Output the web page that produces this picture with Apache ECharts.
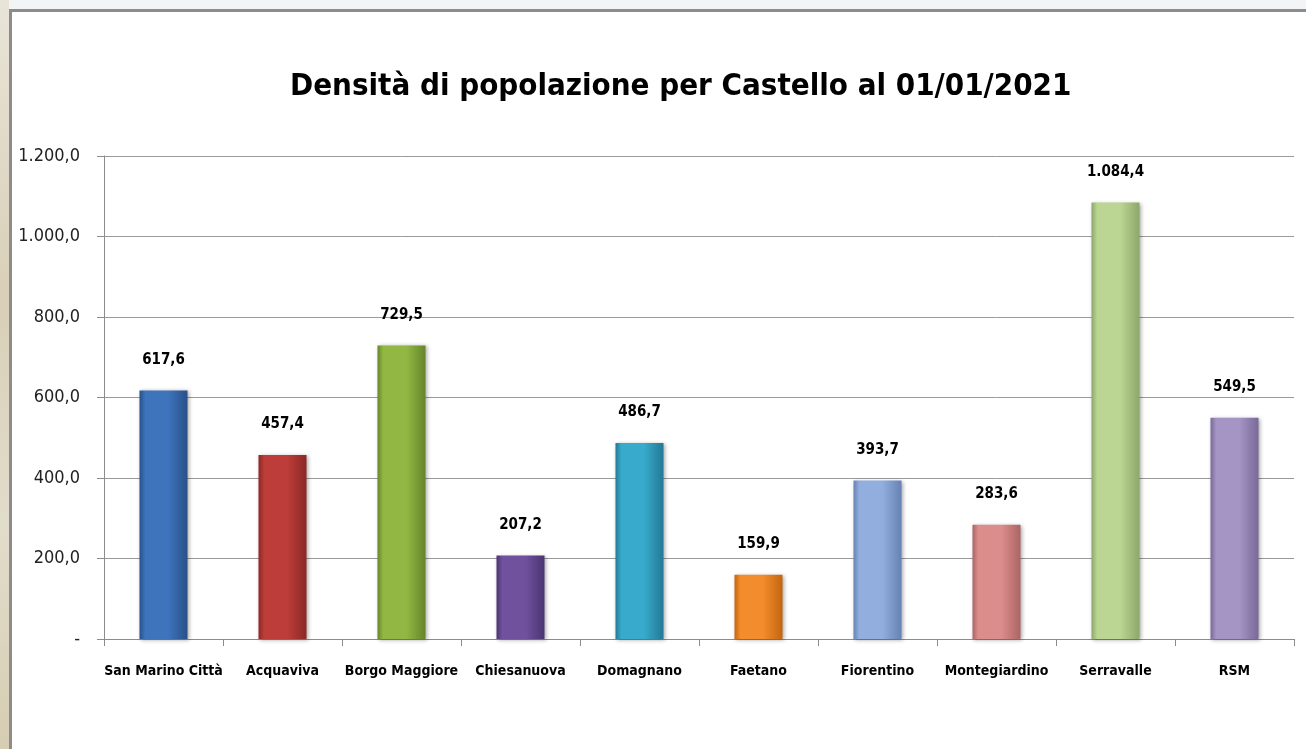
<!DOCTYPE html>
<html>
<head>
<meta charset="utf-8">
<script src="https://cdn.jsdelivr.net/npm/echarts@6/dist/echarts.min.js"></script>
<style>
  html, body { margin: 0; padding: 0; }
  body { width: 1306px; height: 749px; background: #f3f4f6; position: relative; overflow: hidden; }
  .strip { position: absolute; left: 0; top: 0; width: 9px; height: 749px;
    background: linear-gradient(180deg, #e9e4d8 0%, #d9cfb8 40%, #e2dccb 70%, #d6cdb2 100%); }
  .frame { position: absolute; left: 9px; top: 9px; width: 1297px; height: 740px;
    background: #fff; border-left: 3px solid #8c8c8c; border-top: 3px solid #8c8c8c; box-sizing: border-box; }
  #main { position: absolute; left: 0; top: 0; width: 1306px; height: 749px; }
</style>
</head>
<body>
<div class="strip"></div>
<div class="frame"></div>
<div id="main"></div>
<script>
var titleText = 'Densità di popolazione per Castello al 01/01/2021';
var castelli = ['San Marino Città', 'Acquaviva', 'Borgo Maggiore', 'Chiesanuova', 'Domagnano',
  'Faetano', 'Fiorentino', 'Montegiardino', 'Serravalle', 'RSM'];
var densita = [617.6, 457.4, 729.5, 207.2, 486.7, 159.9, 393.7, 283.6, 1084.4, 549.5];
// colore centrale / colore bordo di ogni barra
var coloriCentro = ['#3d74bb', '#bd3d3a', '#92b843', '#70519e', '#38aacb',
  '#f28c2c', '#91aedf', '#db8d8c', '#bbd592', '#a595c5'];
var coloriBordo = ['#285089', '#8a2826', '#66852a', '#4b3471', '#227995',
  '#c4650f', '#6682b3', '#ad6464', '#8ca86a', '#786999'];

var font = "'Liberation Sans Narrow', 'DejaVu Sans Condensed', sans-serif";

// formato italiano: 1.084,4
function fmt(v) {
  var s = v.toFixed(1).split('.');
  var intPart = s[0].replace(/\B(?=(\d{3})+(?!\d))/g, '.');
  return intPart + ',' + s[1];
}

var myChart = echarts.init(document.getElementById('main'));

var barData = densita.map(function (v, i) {
  return {
    value: v,
    itemStyle: {
      color: new echarts.graphic.LinearGradient(0, 0, 1, 0, [
        { offset: 0, color: coloriBordo[i] },
        { offset: 0.12, color: coloriCentro[i] },
        { offset: 0.6, color: coloriCentro[i] },
        { offset: 1, color: coloriBordo[i] }
      ])
    }
  };
});

myChart.setOption({
  backgroundColor: 'transparent',
  animation: false,
  title: {
    text: titleText,
    left: 285,
    top: 66,
    textStyle: {
      fontFamily: font,
      fontWeight: 'bold',
      fontSize: 31,
      color: '#000'
    }
  },
  grid: {
    left: 104,
    right: 12,
    top: 156,
    bottom: 110
  },
  xAxis: {
    type: 'category',
    data: castelli,
    axisLine: { lineStyle: { color: '#8c8c8c', width: 1 } },
    axisTick: { show: true, length: 7, lineStyle: { color: '#8c8c8c' } },
    axisLabel: {
      interval: 0,
      margin: 25,
      fontFamily: font,
      fontWeight: 'bold',
      fontSize: 14,
      color: '#000'
    }
  },
  yAxis: {
    type: 'value',
    min: 0,
    max: 1200,
    interval: 200,
    axisLine: { show: true, lineStyle: { color: '#8c8c8c' } },
    axisTick: { show: true, length: 7, lineStyle: { color: '#8c8c8c' } },
    splitLine: { lineStyle: { color: '#9a9a9a' } },
    axisLabel: {
      margin: 24,
      fontFamily: font,
      fontSize: 18,
      color: '#222',
      formatter: function (v) {
        return v === 0 ? '-' : fmt(v);
      }
    }
  },
  series: [{
    type: 'bar',
    data: barData,
    barWidth: 48,
    itemStyle: {
      shadowColor: 'rgba(0,0,0,0.35)',
      shadowBlur: 4,
      shadowOffsetX: 1,
      shadowOffsetY: 1
    },
    label: {
      show: true,
      position: 'top',
      distance: 23,
      fontFamily: font,
      fontWeight: 'bold',
      fontSize: 15,
      color: '#000',
      formatter: function (p) { return fmt(p.value); }
    }
  }]
});
</script>
</body>
</html>
